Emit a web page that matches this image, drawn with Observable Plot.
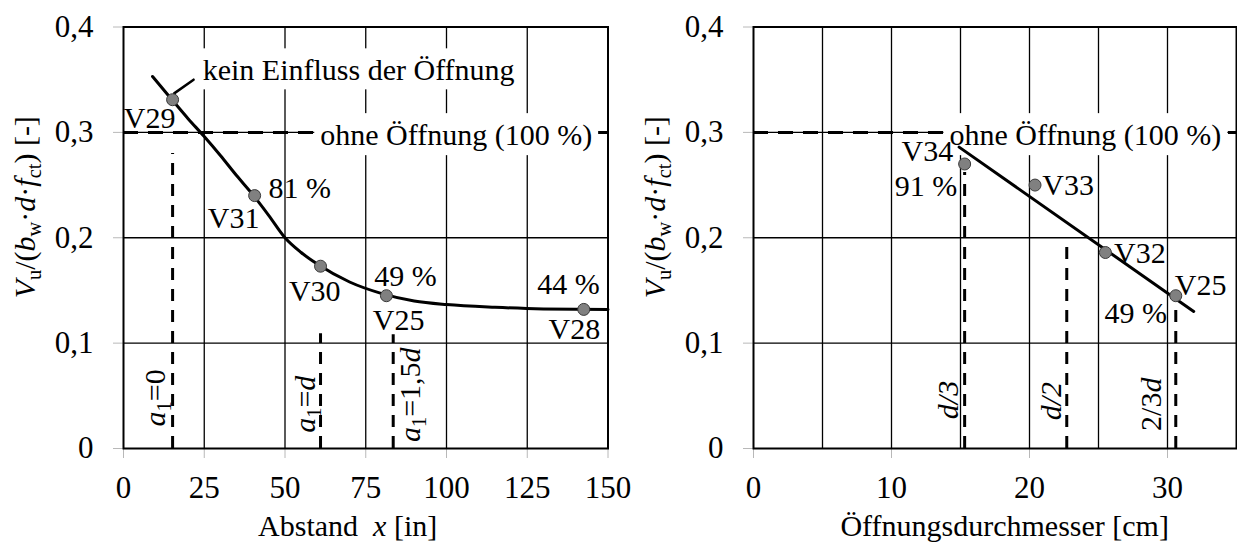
<!DOCTYPE html>
<html>
<head>
<meta charset="utf-8">
<script src="https://cdn.jsdelivr.net/npm/d3@7"></script>
<script src="https://cdn.jsdelivr.net/npm/@observablehq/plot@0.6"></script>
<style>
  html, body { margin: 0; padding: 0; background: #fff; }
  #charts { display: flex; width: 1237px; height: 543px; overflow: hidden; background: #fff; }
  #charts svg { display: block; flex: none; overflow: visible; background: transparent !important; }
  #charts svg text, #charts svg tspan { font-family: "Liberation Serif", "Times New Roman", serif !important; }
</style>
</head>
<body>
<div id="charts"></div>
<script>
// ---------- shared axis values ----------
const yTicks = [0, 0.1, 0.2, 0.3, 0.4];
const yTickLabels = ["0", "0,1", "0,2", "0,3", "0,4"];
const yGrid = [0.1, 0.2, 0.3];
const refLevel = 0.3;                       // capacity without opening (100 %)
const yTitle = "<i>V</i><sub>u</sub>/(<i>b</i><sub>w</sub>·<i>d</i>·<i>f</i><sub>ct</sub>) [-]";
const yTitlePos = 0.229;

// ---------- left panel: distance of the opening ----------
const distTicks = [0, 25, 50, 75, 100, 125, 150];
const distTickLabels = ["0", "25", "50", "75", "100", "125", "150"];
const distGrid = [25, 50, 75, 100, 125];
const distTitle = "Abstand\u00a0 <i>x</i> [in]";
const distTitlePos = 69.4;

const distTests = ["V29", "V31", "V30", "V25", "V28"];
const distX = [15.2, 40.6, 61.0, 81.4, 142.5];
const distV = [0.331, 0.240, 0.173, 0.145, 0.132];

// trend curve through the test results
const trendX = [9, 15, 20, 25, 30, 35, 40, 45, 50, 55, 60, 70, 80, 90, 100, 115, 130, 150];
const trendV = [0.353, 0.331, 0.313, 0.296, 0.278, 0.259, 0.241, 0.221, 0.200, 0.186, 0.175, 0.158, 0.147, 0.140, 0.1366, 0.134, 0.1325, 0.132];

// test labels and relative capacities
const distLabelText = ["V29", "V31", "V30", "V25", "V28", "81 %", "49 %", "44 %"];
const distLabelX = [8.1, 34.1, 59.2, 85.2, 139.6, 54.6, 87.3, 137.8];
const distLabelY = [0.313, 0.218, 0.149, 0.1217, 0.113, 0.247, 0.163, 0.156];

// boxed notes
const distNoteText = ["kein Einfluss der Öffnung", "ohne Öffnung (100 %)"];
const distNoteX = [72.8, 103];
const distNoteY = [0.3585, 0.297];
const leaderX = [15.7, 21.7];
const leaderV = [0.337, 0.350];

// opening positions a1
const a1X = [15.2, 61.0, 83.5];
const a1Top = [0.280, 0.109, 0.108];
const a1Text = ["<i>a</i><sub>1</sub>=0", "<i>a</i><sub>1</sub>=<i>d</i>", "<i>a</i><sub>1</sub>=1,5<i>d</i>"];
const a1LabelX = [10.0, 56.4, 88.9];
const a1LabelY = [0.048, 0.042, 0.051];

// ---------- right panel: opening diameter ----------
const diamTicks = [0, 10, 20, 30];
const diamTickLabels = ["0", "10", "20", "30"];
const diamGrid = [5, 10, 15, 20, 25, 30];
const diamTitle = "Öffnungsdurchmesser [cm]";
const diamTitlePos = 18.2;

const diamTests = ["V34", "V33", "V32", "V25"];
const diamX = [15.3, 20.4, 25.5, 30.6];
const diamV = [0.270, 0.250, 0.186, 0.145];

// linear trend
const fitX = [14.9, 31.9];
const fitV = [0.286, 0.130];

const diamLabelText = ["V34", "91 %", "V33", "V32", "V25", "49 %"];
const diamLabelX = [12.6, 12.5, 22.8, 28.0, 32.4, 27.7];
const diamLabelY = [0.2815, 0.2485, 0.250, 0.1855, 0.155, 0.1285];

const diamNoteText = ["ohne Öffnung (100 %)"];
const diamNoteX = [24.05];
const diamNoteY = [0.297];

// opening sizes relative to d
const sizeX = [15.3, 22.7, 30.6];
const sizeTop = [0.262, 0.200, 0.140];
const sizeText = ["<i>d/3</i>", "<i>d/2</i>", "2/3<i>d</i>"];
const sizeLabelX = [14.1, 21.6, 28.8];
const sizeLabelY = [0.046, 0.045, 0.042];

// ---------- helpers ----------
const FONT = "'Liberation Serif', 'Times New Roman', serif";
const zip = (xs, ys, extra = {}) => xs.map((x, i) => {
  const row = {x, y: ys[i]};
  for (const k in extra) row[k] = extra[k][i];
  return row;
});

function panel(o) {
  const points = zip(o.testX, o.testV, {name: o.tests});
  const labels = zip(o.labelX, o.labelY, {text: o.labelText});
  const notes = zip(o.noteX, o.noteY, {text: o.noteText});
  const markers = zip(o.markX, o.markTop, {text: o.markText, lx: o.markLabelX, ly: o.markLabelY});
  const line = zip(o.lineX, o.lineV);
  return Plot.plot({
    width: o.width,
    height: 543,
    marginLeft: o.marginLeft,
    marginRight: o.marginRight,
    marginTop: 26.5,
    marginBottom: 95,
    x: {domain: o.xDomain},
    y: {domain: [0, 0.4]},
    style: {fontFamily: FONT, fontSize: "30px", color: "black", background: "transparent", overflow: "visible"},
    marks: [
      Plot.gridX(o.xGrid, {stroke: "black", strokeOpacity: 1, strokeWidth: 1.3}),
      Plot.gridY(yGrid, {stroke: "black", strokeOpacity: 1, strokeWidth: 1.3}),
      Plot.axisX(o.xTicks, {
        tickSize: 10, tickPadding: 17, stroke: "#b8b8b8", fill: "black", fontSize: 31,
        tickFormat: (d) => o.xTickLabels[o.xTicks.indexOf(d)], label: null
      }),
      Plot.axisY(yTicks, {
        tickSize: 10, tickPadding: 20, stroke: "#b8b8b8", fill: "black", fontSize: 31,
        tickFormat: (d) => yTickLabels[yTicks.indexOf(d)], label: null
      }),
      // reference level without opening
      Plot.ruleY([refLevel], {stroke: "black", strokeWidth: 3, strokeDasharray: "15,10"}),
      // vertical markers
      Plot.ruleX(markers, {x: "x", y1: 0, y2: "y", stroke: "black", strokeWidth: 3, strokeDasharray: "12,9"}),
      // boxed notes (white boxes added after rendering)
      Plot.text(notes, {x: "x", y: "y", text: "text", fontSize: 30, fill: "black", ariaDescription: "boxed"}),
      // trend
      Plot.line(line, {x: "x", y: "y", curve: o.curve, stroke: "black", strokeWidth: 3}),
      ...(o.leaderX ? [Plot.line(zip(o.leaderX, o.leaderV), {x: "x", y: "y", stroke: "black", strokeWidth: 2.5})] : []),
      Plot.dot(points, {x: "x", y: "y", r: 6, fill: "#808080", stroke: "#3a3a3a", strokeWidth: 1}),
      Plot.text(labels, {x: "x", y: "y", text: "text", fontSize: 30, fill: "black"}),
      Plot.text(markers, {x: "lx", y: "ly", text: "text", rotate: -90, fontSize: 30, fill: "black"}),
      // axis titles
      Plot.text([o.xTitle], {
        x: () => o.xTitlePos, frameAnchor: "bottom", textAnchor: "middle", lineAnchor: "middle",
        dy: 78, text: (d) => d, fontSize: 30, fill: "black"
      }),
      Plot.text([yTitle], {
        y: () => yTitlePos, frameAnchor: "left", textAnchor: "middle", lineAnchor: "middle",
        dx: -98, rotate: -90, text: (d) => d, fontSize: 30, fill: "black"
      }),
      Plot.frame({stroke: "black", strokeWidth: 2})
    ]
  });
}

const left = panel({
  width: 618, marginLeft: 123, marginRight: 10.5, xDomain: [0, 150],
  xGrid: distGrid, xTicks: distTicks, xTickLabels: distTickLabels,
  xTitle: distTitle, xTitlePos: distTitlePos,
  tests: distTests, testX: distX, testV: distV,
  labelText: distLabelText, labelX: distLabelX, labelY: distLabelY,
  noteText: distNoteText, noteX: distNoteX, noteY: distNoteY,
  markX: a1X, markTop: a1Top, markText: a1Text, markLabelX: a1LabelX, markLabelY: a1LabelY,
  lineX: trendX, lineV: trendV, curve: "monotone-x",
  leaderX, leaderV
});

const right = panel({
  width: 619, marginLeft: 135, marginRight: 1, xDomain: [0, 35],
  xGrid: diamGrid, xTicks: diamTicks, xTickLabels: diamTickLabels,
  xTitle: diamTitle, xTitlePos: diamTitlePos,
  tests: diamTests, testX: diamX, testV: diamV,
  labelText: diamLabelText, labelX: diamLabelX, labelY: diamLabelY,
  noteText: diamNoteText, noteX: diamNoteX, noteY: diamNoteY,
  markX: sizeX, markTop: sizeTop, markText: sizeText, markLabelX: sizeLabelX, markLabelY: sizeLabelY,
  lineX: fitX, lineV: fitV, curve: "linear"
});

const host = document.getElementById("charts");
host.append(left, right);

// ---------- rich text: italics and subscripts ----------
const NS = "http://www.w3.org/2000/svg";
function richText(svg) {
  svg.querySelectorAll("text").forEach((t) => {
    const s = t.textContent;
    if (!/<(i|sub)>/.test(s)) return;
    const fs = parseFloat(getComputedStyle(t).fontSize) || 30;
    const shift = 0.2 * fs;
    t.textContent = "";
    const re = /<(i|sub)>(.*?)<\/\1>|([^<]+)/g;
    let m, inSub = false;
    while ((m = re.exec(s))) {
      const span = document.createElementNS(NS, "tspan");
      const isSub = m[1] === "sub";
      if (m[1] === "i") span.setAttribute("font-style", "italic");
      if (isSub) span.setAttribute("font-size", (0.68 * fs) + "px");
      span.textContent = m[1] ? m[2] : m[3];
      if (isSub && !inSub) span.setAttribute("dy", shift);
      if (!isSub && inSub) span.setAttribute("dy", -shift);
      inSub = isSub;
      t.appendChild(span);
    }
  });
}

// white boxes behind the notes
function boxNotes(svg) {
  svg.querySelectorAll('g[aria-description="boxed"] text').forEach((t) => {
    const b = t.getBBox();
    const r = document.createElementNS(NS, "rect");
    r.setAttribute("x", b.x - 6);
    r.setAttribute("y", b.y - 5);
    r.setAttribute("width", b.width + 12);
    r.setAttribute("height", b.height + 8);
    r.setAttribute("fill", "white");
    r.setAttribute("stroke", "none");
    const tr = t.getAttribute("transform");
    if (tr) r.setAttribute("transform", tr);
    t.parentNode.insertBefore(r, t);
  });
}

for (const svg of [left, right]) {
  richText(svg);
  boxNotes(svg);
}
</script>
</body>
</html>
